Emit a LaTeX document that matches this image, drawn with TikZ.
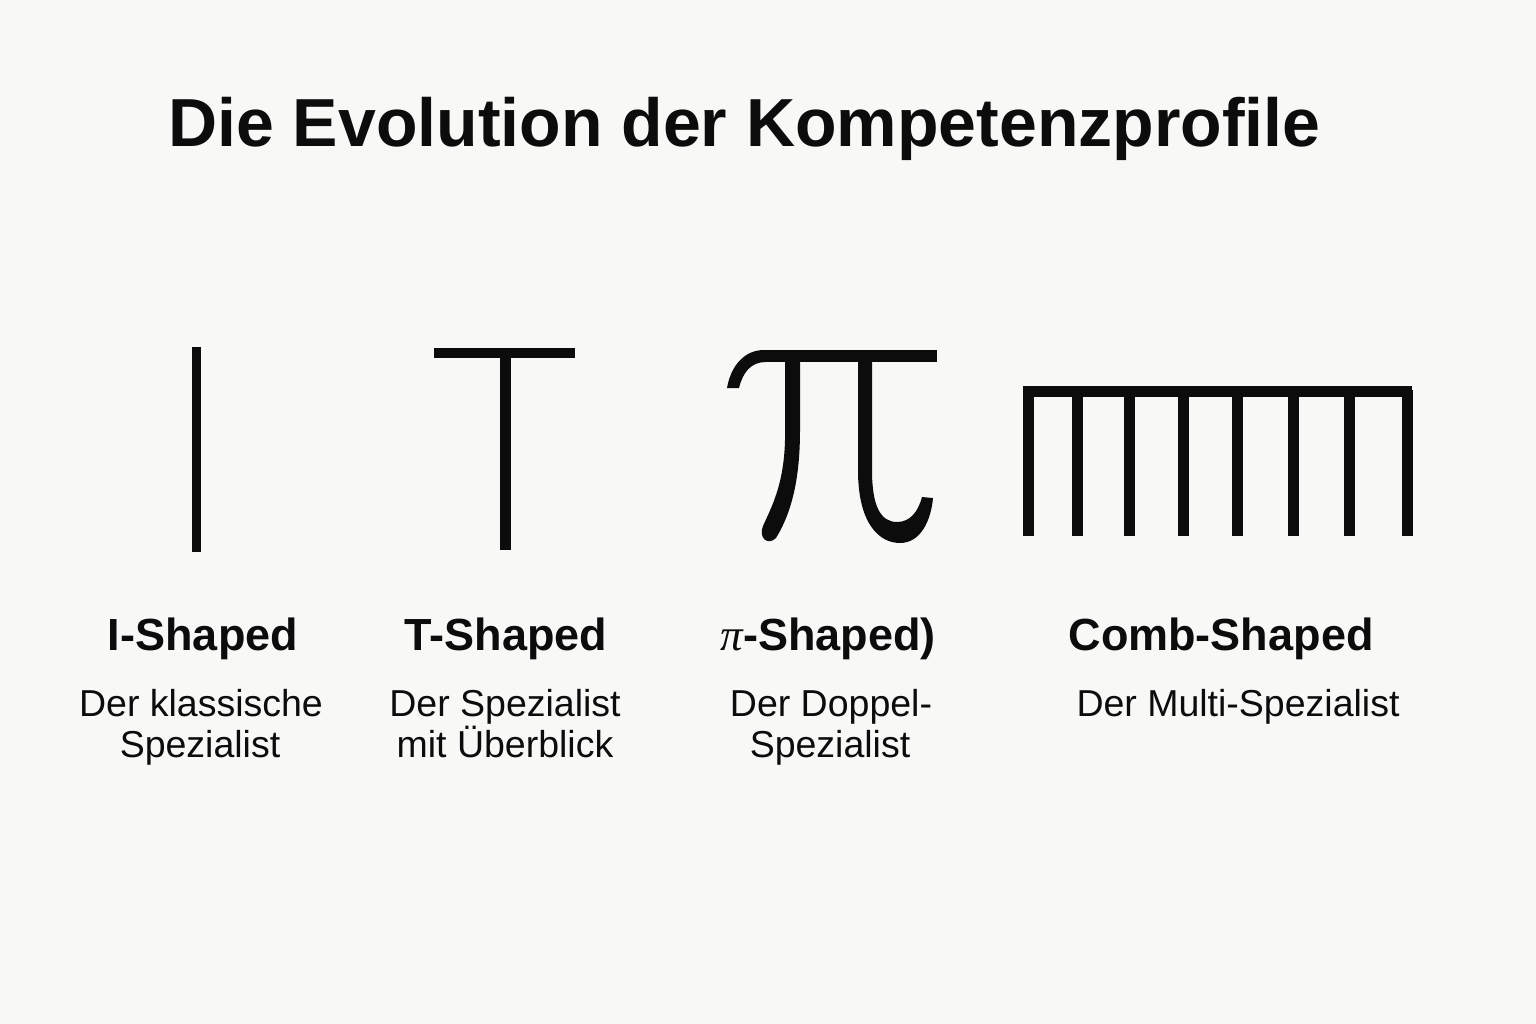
\documentclass[tikz,border=0pt]{standalone}
\usepackage{fontspec}
\setmainfont{Liberation Sans}
\newfontfamily\pifont{Liberation Serif}
\definecolor{bg}{RGB}{248,248,246}
\definecolor{ink}{RGB}{12,12,12}
\begin{document}
\begin{tikzpicture}[x=1pt,y=-1pt,
  titlestyle/.style={anchor=base west,inner sep=0pt,text=ink,font=\fontsize{68}{80}\selectfont\bfseries},
  labelstyle/.style={anchor=base,inner sep=0pt,text=ink,font=\fontsize{45}{54}\selectfont\bfseries},
  substyle/.style={anchor=base,inner sep=0pt,text=ink,font=\fontsize{37.5}{42}\selectfont},
  bar/.style={fill=ink,draw=none}]
\fill[bg] (0,0) rectangle (1536,1024);
\useasboundingbox (0,0) rectangle (1536,1024);

\node[titlestyle] (title) at (168,147) {Die Evolution der Kompetenzprofile};

% I-shape
\fill[bar] (192,347) rectangle (201,552);

% T-shape
\fill[bar] (434,348) rectangle (575,358);
\fill[bar] (500,358) rectangle (511,550);

% Pi-shape
\fill[bar] (762,350) rectangle (937,362);
\fill[bar] (764,350) .. controls (745,350) and (731,365) .. (727,388)
  -- (739,388) .. controls (743,372) and (751,362) .. (766,362) -- cycle;
\fill[bar] (785,362) -- (785,440) .. controls (784,485) and (771,508) .. (763,526)
  .. controls (758,538) and (768,546) .. (776,538)
  .. controls (792,512) and (800,478) .. (800,430) -- (800,362) -- cycle;
\fill[bar] (858,362) -- (858,470) .. controls (858,525) and (880,543) .. (900,543)
  .. controls (921,543) and (931,520) .. (933,498) -- (922,497)
  .. controls (918,512) and (910,522) .. (897,522)
  .. controls (880,522) and (872,505) .. (872,470) -- (872,362) -- cycle;

% Comb-shape
\fill[bar] (1023,386) rectangle (1412,397);
\foreach \x in {1023,1072,1124,1178,1232,1288,1344,1402}
  \fill[bar] (\x,390) rectangle (\x+10.5,536);

% Labels
\node[labelstyle] (li) at (203,650) {I-Shaped};
\node[labelstyle] (lt) at (506,650) {T-Shaped};
\node[labelstyle] (lp) at (828,650) {{\pifont\mdseries\itshape π}-Shaped)};
\node[labelstyle] (lc) at (1221,650) {Comb-Shaped};

\node[substyle] (si1) at (201,716) {Der klassische};
\node[substyle] (si2) at (200,757) {Spezialist};
\node[substyle] (st1) at (505,716) {Der Spezialist};
\node[substyle] (st2) at (505,757) {mit Überblick};
\node[substyle] (sp1) at (831,716) {Der Doppel-};
\node[substyle] (sp2) at (830,757) {Spezialist};
\node[substyle] (sc1) at (1238,716) {Der Multi-Spezialist};
\end{tikzpicture}
\end{document}
